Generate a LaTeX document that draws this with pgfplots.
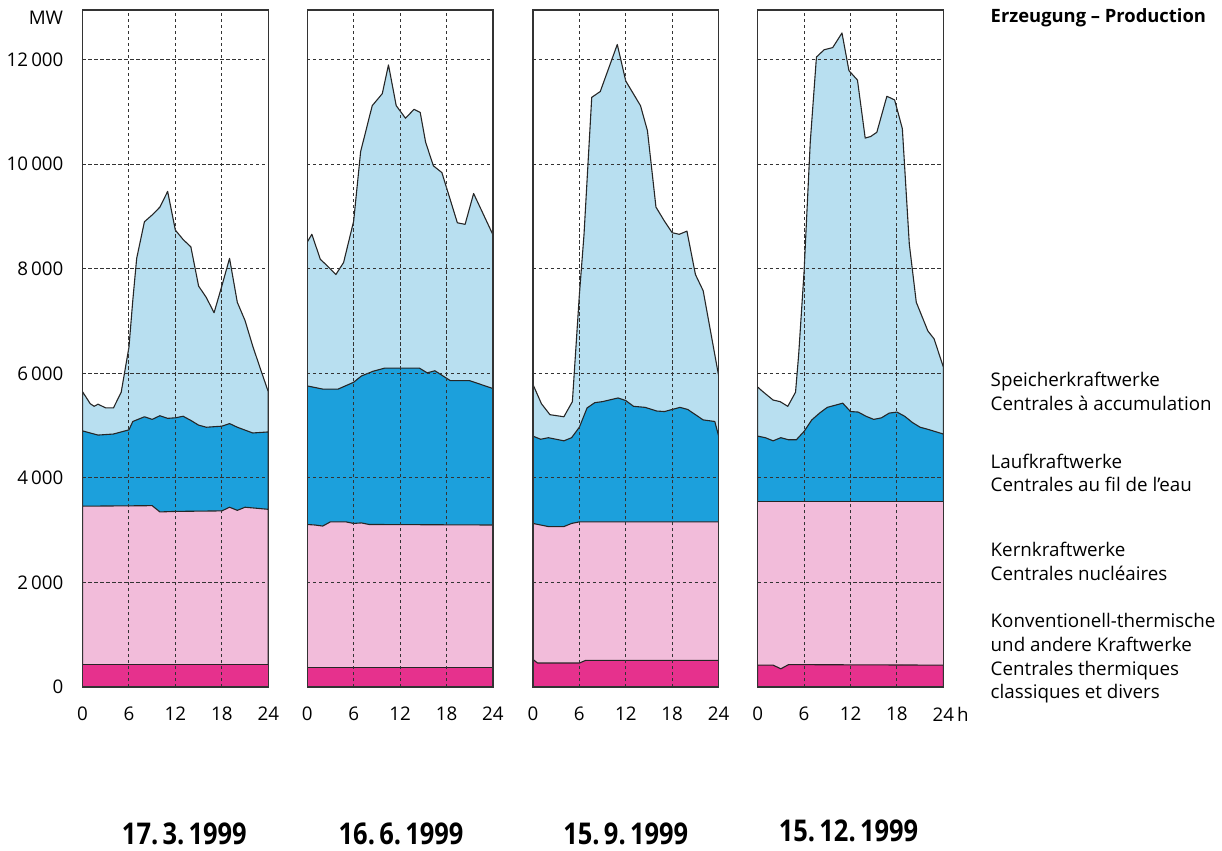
\documentclass[border=0pt]{standalone}
\usepackage{fontspec}
\setmainfont{Open Sans}
\usepackage{graphicx}
\usepackage{pgfplots}
\pgfplotsset{compat=1.18}

\definecolor{speicher}{HTML}{B8DFF0}
\definecolor{lauf}{HTML}{1CA0DC}
\definecolor{kern}{HTML}{F2BCDA}
\definecolor{thermo}{HTML}{E6318D}

\tikzset{area/.style={line width=0.55pt, draw=black!85, line join=round}}

\pgfplotsset{
  panel/.style={
    scale only axis, width=93pt, height=339pt,
    xmin=0, xmax=24, ymin=0, ymax=12950,
    xtick={0,6,12,18,24}, ytick={0,2000,...,12000},
    scaled y ticks=false,
    xticklabels={0,6,12,18,24},
    yticklabels={},
    grid=major,
    major grid style={dash pattern=on 1.6pt off 1.4pt, line width=0.45pt, color=black!80},
    tick style={draw=none},
    axis line style={line width=0.7pt, color=black!80},
    axis on top,
    xticklabel style={font=\fontsize{9.4}{10}\selectfont, yshift=-6.5pt},
    yticklabel style={font=\fontsize{9.4}{10}\selectfont, xshift=-6pt},
    anchor=south west,
  },
}

\begin{document}
\begin{tikzpicture}
\path (0,0) rectangle (611pt,426pt);

% 17.3.1999
\begin{axis}[panel, at={(40.5pt,82pt)},
  yticklabels={0,2\,000,4\,000,6\,000,8\,000,10\,000,12\,000}]
\addplot[area, fill=speicher] coordinates {
  (0,5650) (1,5420) (1.5,5370) (2,5410) (3,5340) (4,5340) (5,5640) (6,6500)
  (6.5,7400) (7,8200) (8,8900) (9,9030) (10,9180) (11,9480) (12,8740) (13,8560)
  (14,8420) (15,7670) (16,7450) (17,7160) (18,7670) (19,8200) (20,7360) (21,7010)
  (22,6520) (23,6080) (24,5650)
} \closedcycle;
\addplot[area, fill=lauf] coordinates {
  (0,4900) (2,4820) (4,4840) (6,4920) (6.5,5080) (8,5170) (9,5120) (10,5190)
  (11,5140) (12,5150) (13,5180) (14,5100) (15,5010) (16,4970) (18,4990) (19,5040)
  (20,4970) (22,4860) (24,4880)
} \closedcycle;
\addplot[area, fill=kern] coordinates {
  (0,3460) (9,3470) (10,3350) (12,3360) (18,3370) (19,3440) (20,3380) (21,3440) (24,3400)
} \closedcycle;
\addplot[area, fill=thermo] coordinates {
  (0,430) (24,430)
} \closedcycle;
\end{axis}

% 16.6.1999
\begin{axis}[panel, at={(153pt,82pt)}]
\addplot[area, fill=speicher] coordinates {
  (0,8510) (0.6,8660) (1.7,8180) (2.5,8070) (3.7,7890) (4.7,8120) (6,8910) (6.9,10240)
  (8.4,11120) (9.7,11350) (10.5,11900) (11.5,11120) (12.7,10880) (13.8,11050)
  (14.6,10990) (15.3,10420) (16.3,9970) (17.4,9840) (19.4,8880) (20.4,8850)
  (21.5,9440) (24,8650)
} \closedcycle;
\addplot[area, fill=lauf] coordinates {
  (0,5760) (2,5700) (4,5700) (6,5830) (7,5950) (8.5,6040) (10,6100) (14.5,6100)
  (15.5,6010) (16.5,6050) (18.5,5860) (21,5860) (24,5710)
} \closedcycle;
\addplot[area, fill=kern] coordinates {
  (0,3110) (1,3100) (2,3080) (3,3160) (5,3160) (6,3130) (7,3140) (8,3110) (24,3100)
} \closedcycle;
\addplot[area, fill=thermo] coordinates {
  (0,380) (24,380)
} \closedcycle;
\end{axis}

% 15.9.1999
\begin{axis}[panel, at={(266pt,82pt)}]
\addplot[area, fill=speicher] coordinates {
  (0,5790) (1.1,5420) (2.2,5210) (4,5170) (5.1,5460) (6,7500) (6.6,8650) (7.6,11280)
  (8.7,11390) (10.9,12290) (12,11590) (13.9,11120) (14.8,10640) (15.9,9180)
  (17,8910) (18,8690) (18.9,8660) (19.9,8720) (21,7890) (22,7580) (24,5950)
} \closedcycle;
\addplot[area, fill=lauf] coordinates {
  (0,4800) (1,4740) (2,4770) (4,4710) (5,4770) (6,4970) (7,5340) (8,5440) (9,5460)
  (11,5530) (12,5480) (13,5370) (14.5,5350) (16,5280) (17,5270) (19,5350) (20,5310)
  (22,5110) (23.5,5080) (24,4800)
} \closedcycle;
\addplot[area, fill=kern] coordinates {
  (0,3130) (1,3100) (2,3070) (4,3070) (5,3130) (6,3160) (24,3160)
} \closedcycle;
\addplot[area, fill=thermo] coordinates {
  (0,530) (0.6,460) (6,460) (6.8,510) (24,510)
} \closedcycle;
\end{axis}

% 15.12.1999
\begin{axis}[panel, at={(378.5pt,82pt)},
  xticklabels={0,6,12,18,24\rlap{\,h}}]
\addplot[area, fill=speicher] coordinates {
  (0,5740) (0.6,5660) (2,5490) (2.9,5460) (3.9,5370) (4.9,5640) (5.3,6350) (6,7940)
  (6.8,10420) (7.6,12050) (8.6,12190) (9.7,12230) (10.9,12510) (11.8,11790)
  (12.9,11610) (13.9,10500) (14.6,10530) (15.4,10610) (16.7,11300) (17.7,11230)
  (18.7,10680) (19.6,8470) (20.5,7360) (22,6810) (22.8,6660) (24,6120)
} \closedcycle;
\addplot[area, fill=lauf] coordinates {
  (0,4800) (1,4770) (2,4710) (3,4770) (4,4730) (5,4730) (6,4890) (7,5110) (8,5240)
  (9,5350) (10,5390) (11,5430) (12,5270) (13,5260) (14,5180) (15,5120) (16,5150)
  (17,5240) (18,5260) (19,5180) (20,5060) (21,4970) (22,4930) (24,4840)
} \closedcycle;
\addplot[area, fill=kern] coordinates {
  (0,3550) (24,3550)
} \closedcycle;
\addplot[area, fill=thermo] coordinates {
  (0,420) (2,420) (3,350) (4,430) (24,420)
} \closedcycle;
\end{axis}

\node[anchor=east, inner sep=0pt, font=\fontsize{9.4}{10}\selectfont] at (31pt,417pt) {MW};
\node[anchor=west, inner sep=0pt, font=\fontsize{9.2}{10}\selectfont\bfseries] at (495pt,417pt) {Erzeugung – Production};

\begin{scope}[every node/.style={anchor=base west, inner sep=0pt, font=\fontsize{9.4}{10}\selectfont}]
\node at (495pt,232.5pt) {Speicherkraftwerke};
\node at (495pt,220.5pt) {Centrales à accumulation};
\node at (495pt,191.5pt) {Laufkraftwerke};
\node at (495pt,180pt) {Centrales au fil de l’eau};
\node at (495pt,147.5pt) {Kernkraftwerke};
\node at (495pt,135.5pt) {Centrales nucléaires};
\node at (495pt,112pt) {Konventionell-thermische};
\node at (495pt,100pt) {und andere Kraftwerke};
\node at (495pt,88pt) {Centrales thermiques};
\node at (495pt,76.5pt) {classiques et divers};
\end{scope}

\begin{scope}[every node/.style={inner sep=0pt, font=\fontsize{15}{16}\selectfont\bfseries}]
\node at (91.5pt,8.5pt) {\scalebox{0.85}[1]{17.\,3.\,1999}};
\node at (200pt,8.5pt) {\scalebox{0.85}[1]{16.\,6.\,1999}};
\node at (312.5pt,8.5pt) {\scalebox{0.85}[1]{15.\,9.\,1999}};
\node at (424pt,10pt) {\scalebox{0.85}[1]{15.\,12.\,1999}};
\end{scope}
\end{tikzpicture}
\end{document}
